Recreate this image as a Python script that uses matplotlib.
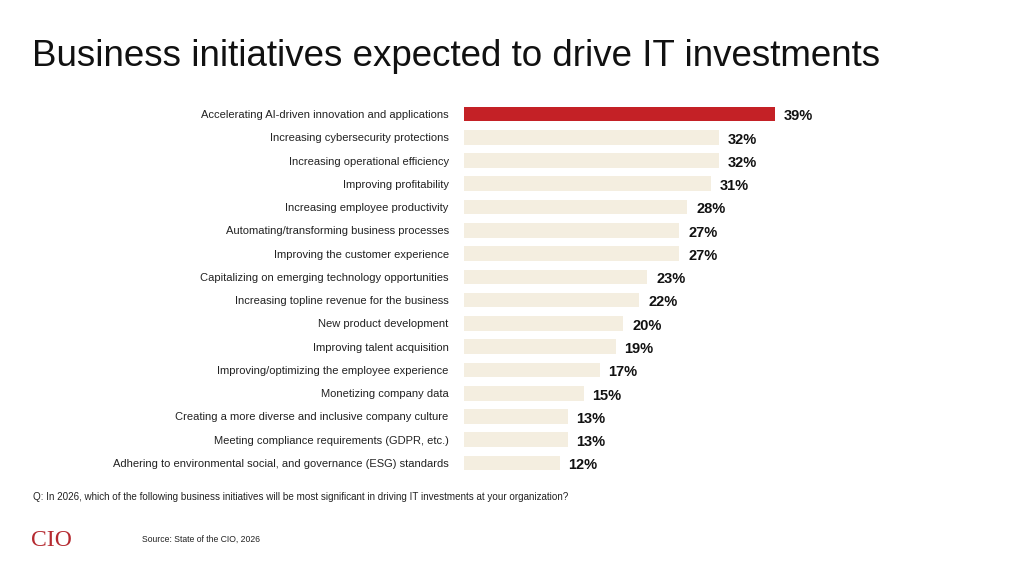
import matplotlib
matplotlib.use("Agg")
import matplotlib.pyplot as plt

categories = [
    "Accelerating AI-driven innovation and applications",
    "Increasing cybersecurity protections",
    "Increasing operational efficiency",
    "Improving profitability",
    "Increasing employee productivity",
    "Automating/transforming business processes",
    "Improving the customer experience",
    "Capitalizing on emerging technology opportunities",
    "Increasing topline revenue for the business",
    "New product development",
    "Improving talent acquisition",
    "Improving/optimizing the employee experience",
    "Monetizing company data",
    "Creating a more diverse and inclusive company culture",
    "Meeting compliance requirements (GDPR, etc.)",
    "Adhering to environmental social, and governance (ESG) standards",
]
values = [39, 32, 32, 31, 28, 27, 27, 23, 22, 20, 19, 17, 15, 13, 13, 12]

plt.rcParams['font.family'] = ['Liberation Sans', 'DejaVu Sans']
W, H = 1024, 576
fig = plt.figure(figsize=(W/100, H/100), dpi=100)
fig.patch.set_facecolor("white")

left, right = 464, 464 + 50 * 7.974
top, bottom = 102.4, 474.6
ax = fig.add_axes([left/W, 1 - bottom/H, (right-left)/W, (bottom-top)/H])
ys = list(range(len(values)))
colors = ["#C42126"] + ["#F4EEE0"] * (len(values) - 1)
ax.barh(ys, values, height=0.63, color=colors)
ax.set_xlim(0, 50)
ax.set_ylim(len(values) - 0.5, -0.5)
for s in ax.spines.values():
    s.set_visible(False)
ax.set_xticks([])
ax.set_yticks(ys)
ax.set_yticklabels(categories, fontsize=8.0, color="#222222")
ax.tick_params(axis="y", length=0, pad=11)
for y, v in zip(ys, values):
    ax.text(v + 1.1, y + 0.1, f"{v}%", va="center", ha="left", fontsize=10.5,
            fontweight="bold", color="#111111")

fig.text(32/W, 1 - 56/H, "Business initiatives expected to drive IT investments",
         fontsize=26.5, va="center", ha="left", color="#111111")
fig.text(33/W, 1 - 497/H,
         "Q: In 2026, which of the following business initiatives will be most significant in driving IT investments at your organization?",
         fontsize=7.15, va="center", ha="left", color="#222222")
fig.text(142/W, 1 - 539/H, "Source: State of the CIO, 2026", fontsize=6.2,
         va="center", ha="left", color="#222222")
fig.text(31/W, 1 - 540/H, "CIO", fontsize=17, va="center", ha="left",
         color="#B52A30", family=["Liberation Serif", "DejaVu Serif"])

fig.savefig("out.png", dpi=100, facecolor="white")
